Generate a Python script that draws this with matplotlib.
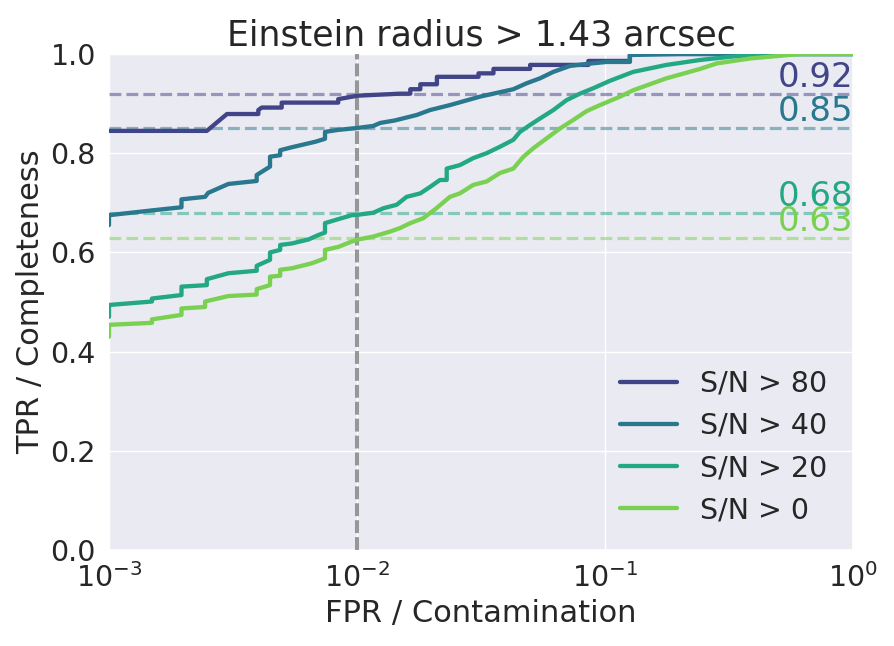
import numpy as np
import matplotlib
matplotlib.use("Agg")
import matplotlib.pyplot as plt
import seaborn as sns

labels = ["S/N > 80", "S/N > 40", "S/N > 20", "S/N > 0"]
colors = ["#414487", "#2a788e", "#22a884", "#7ad151"]

fpr_80 = [0.001, 0.00248, 0.00299, 0.0040, 0.0040, 0.00413, 0.00497, 0.00497, 0.0084, 0.0084,
          0.0101, 0.0149, 0.0164, 0.0164, 0.0180, 0.0180, 0.0210, 0.0210, 0.0309, 0.0309,
          0.0355, 0.0355, 0.0499, 0.0499, 0.0857, 0.0857, 0.126, 0.126, 1.0]
tpr_80 = [0.845, 0.845, 0.879, 0.879, 0.887, 0.892, 0.892, 0.902, 0.902, 0.909,
          0.916, 0.920, 0.920, 0.929, 0.929, 0.939, 0.939, 0.954, 0.954, 0.961,
          0.961, 0.970, 0.970, 0.978, 0.978, 0.986, 0.986, 1.0, 1.0]

fpr_40 = [0.001, 0.001, 0.00151, 0.00196, 0.00196, 0.00244, 0.00251, 0.00303, 0.00394, 0.00394,
          0.00446, 0.00446, 0.00490, 0.00490, 0.00546, 0.00678, 0.00743, 0.00743, 0.0084, 0.0101,
          0.01164, 0.0124, 0.0142, 0.0174, 0.0197, 0.0237, 0.0313, 0.0427, 0.0483, 0.0547,
          0.0619, 0.0723, 0.0844, 0.1016, 0.126, 0.126, 0.2, 1.0]
tpr_40 = [0.655, 0.675, 0.685, 0.691, 0.707, 0.712, 0.720, 0.738, 0.744, 0.756,
          0.773, 0.793, 0.796, 0.806, 0.812, 0.823, 0.829, 0.843, 0.847, 0.851,
          0.855, 0.861, 0.866, 0.877, 0.887, 0.897, 0.914, 0.929, 0.941, 0.951,
          0.964, 0.976, 0.980, 0.984, 0.984, 0.998, 1.0, 1.0]

fpr_20 = [0.001, 0.001, 0.00149, 0.00149, 0.00196, 0.00196, 0.00248, 0.00248, 0.00303, 0.00394,
          0.00394, 0.00446, 0.00446, 0.0049, 0.0049, 0.00546, 0.00637, 0.00698, 0.00743, 0.00743,
          0.0084, 0.00953, 0.0101, 0.01164, 0.01277, 0.01445, 0.01585, 0.018, 0.0197, 0.0216,
          0.0230, 0.0230, 0.026, 0.0294, 0.0333, 0.0377, 0.0427, 0.0454, 0.0499, 0.0547,
          0.0619, 0.070, 0.0792, 0.0897, 0.1047, 0.130, 0.177, 0.242, 0.328, 0.522, 1.0]
tpr_20 = [0.470, 0.494, 0.501, 0.507, 0.514, 0.531, 0.534, 0.546, 0.558, 0.563,
          0.573, 0.585, 0.600, 0.605, 0.615, 0.618, 0.626, 0.635, 0.640, 0.659,
          0.667, 0.675, 0.676, 0.680, 0.689, 0.696, 0.712, 0.719, 0.732, 0.746,
          0.746, 0.769, 0.776, 0.790, 0.800, 0.813, 0.827, 0.843, 0.857, 0.870,
          0.887, 0.907, 0.920, 0.931, 0.946, 0.964, 0.978, 0.988, 0.995, 1.0, 1.0]

fpr_0 = [0.001, 0.001, 0.00149, 0.00149, 0.00196, 0.00196, 0.00244, 0.00244, 0.00303, 0.00394,
         0.00394, 0.00446, 0.00446, 0.0049, 0.0049, 0.00546, 0.00657, 0.00743, 0.00743, 0.0084,
         0.00953, 0.0101, 0.01164, 0.0136, 0.0149, 0.0164, 0.0185, 0.0209, 0.0237, 0.026,
         0.0294, 0.0333, 0.0377, 0.0427, 0.0469, 0.0514, 0.0582, 0.0659, 0.0745, 0.0844,
         0.0955, 0.115, 0.130, 0.177, 0.242, 0.282, 0.385, 0.611, 1.0]
tpr_0 = [0.430, 0.454, 0.458, 0.465, 0.474, 0.487, 0.490, 0.501, 0.512, 0.515,
         0.526, 0.534, 0.551, 0.553, 0.565, 0.568, 0.578, 0.588, 0.605, 0.611,
         0.622, 0.626, 0.632, 0.642, 0.649, 0.659, 0.669, 0.689, 0.712, 0.719,
         0.736, 0.743, 0.760, 0.769, 0.793, 0.810, 0.830, 0.850, 0.867, 0.885,
         0.897, 0.914, 0.927, 0.951, 0.970, 0.981, 0.991, 1.0, 1.0]

tpr_at_1pct = [0.92, 0.85, 0.68, 0.63]
fpr_cut = 0.01

sns.set_theme(style="darkgrid")
plt.rcParams['font.family'] = ['DejaVu Sans']

fig = plt.figure(figsize=(8.95, 6.46), dpi=100)
ax = fig.add_axes([109/895, 1-550/646, (853-109)/895, (550-54)/646])

curves = [(fpr_80, tpr_80), (fpr_40, tpr_40), (fpr_20, tpr_20), (fpr_0, tpr_0)]
for (f, t), c, lab in zip(curves, colors, labels):
    ax.plot(f, t, color=c, lw=3.1, label=lab, zorder=4)

for v, c in zip(tpr_at_1pct, colors):
    ax.axhline(v, color=c, ls='--', lw=2.3, alpha=0.5, zorder=3)
    ax.text(1.0, v, f"{v:.2f}", color=c, fontsize=24.5, ha='right', va='bottom', zorder=5)

ax.axvline(fpr_cut, color='grey', ls='--', lw=2.9, alpha=0.8, dashes=(3.2, 1.0), zorder=3)

ax.set_xscale('log')
ax.set_xlim(1e-3, 1)
ax.set_ylim(0, 1)
ax.set_yticks([0.0, 0.2, 0.4, 0.6, 0.8, 1.0])
ax.tick_params(axis='both', labelsize=20.5)
ax.set_xlabel("FPR / Contamination", fontsize=22)
ax.set_ylabel("TPR / Completeness", fontsize=22)
ax.set_title("Einstein radius > 1.43 arcsec", fontsize=25)
ax.minorticks_off()
ax.legend(loc='lower right', fontsize=20.5, frameon=False)

fig.savefig("out.png", dpi=100)
